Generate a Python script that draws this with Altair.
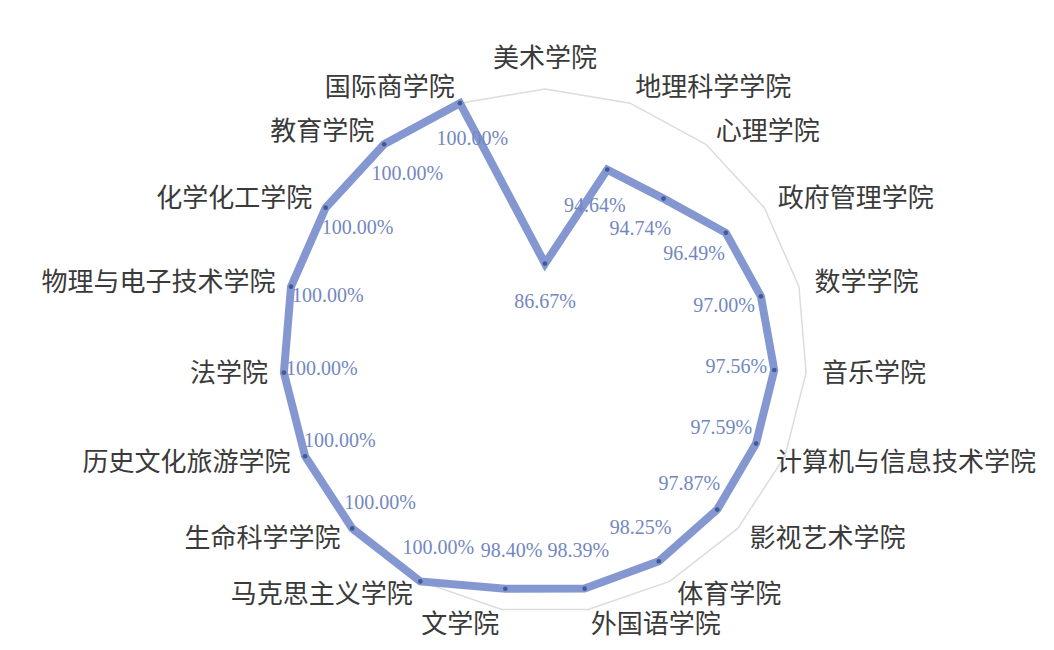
import altair as alt
import pandas as pd

categories = ["美术学院", "地理科学学院", "心理学院", "政府管理学院", "数学学院", "音乐学院",
              "计算机与信息技术学院", "影视艺术学院", "体育学院", "外国语学院", "文学院",
              "马克思主义学院", "生命科学学院", "历史文化旅游学院", "法学院", "物理与电子技术学院",
              "化学化工学院", "教育学院", "国际商学院"]
values = [86.67, 94.64, 94.74, 96.49, 97.00, 97.56, 97.59, 97.87, 98.25, 98.39, 98.40,
          100.00, 100.00, 100.00, 100.00, 100.00, 100.00, 100.00, 100.00]
axis_min, axis_max = 80, 100

N = len(categories)
df = pd.DataFrame({"college": categories, "rate": values, "idx": list(range(N))})

# layout (pixels)
W, H = 1038, 634
R = 262.0          # radius of the 100% ring
CX, CY = 537.0, 343.0
LBL_IN = 38.0 / R   # value label offset inward
CAT_R = 278.0 / R   # category label radius
CAT_FS = 26
XMAX = (W - CX) / R

xs = alt.Scale(domain=[-CX / R, XMAX], nice=False, zero=False)
ys = alt.Scale(domain=[-(H - CY) / R, CY / R], nice=False, zero=False)

base = (
    alt.Chart(df)
    .transform_calculate(theta=f"datum.idx*2*PI/{N}")
    .transform_calculate(r=f"(datum.rate-{axis_min})/({axis_max}-{axis_min})")
    .transform_calculate(s="sin(datum.theta)", c="cos(datum.theta)")
    .transform_calculate(px="datum.r*datum.s", py="datum.r*datum.c")
    .transform_calculate(lx=f"(datum.r-{LBL_IN})*datum.s", ly=f"(datum.r-{LBL_IN})*datum.c")
    # category labels: pulled in if they would run past the right edge
    .transform_calculate(
        cx=f"min({CAT_R}*datum.s, {XMAX} - length(datum.college)*{CAT_FS + 1}/{R})",
        cy=f"{CAT_R}*datum.c",
    )
    .transform_calculate(label="format(datum.rate,'.2f')+'%'")
)

def xy(xf, yf):
    return dict(
        x=alt.X(f"{xf}:Q", scale=xs, axis=None),
        y=alt.Y(f"{yf}:Q", scale=ys, axis=None),
    )

grid = base.mark_line(interpolate="linear-closed", color="#dcdcdc", strokeWidth=1.5).encode(
    order=alt.Order("idx:Q"), **xy("s", "c")
)

line = base.mark_line(interpolate="linear-closed", color="#8497d0", strokeWidth=8,
                      strokeJoin="miter").encode(order=alt.Order("idx:Q"), **xy("px", "py"))

pts = base.mark_point(filled=True, size=22, color="#3e5b98", opacity=1).encode(**xy("px", "py"))

vlabels = base.mark_text(font="Liberation Serif", fontSize=20, color="#7387c0").encode(
    text="label:N", **xy("lx", "ly")
)

cat_font = dict(font="Noto Sans CJK SC", fontSize=CAT_FS, color="#3a3a3a", baseline="middle")
cat_top = base.transform_filter("abs(datum.s) < 0.1").mark_text(align="center", dy=-14, **cat_font).encode(
    text="college:N", **xy("cx", "cy"))
cat_right = base.transform_filter("datum.s >= 0.1").mark_text(align="left", **cat_font).encode(
    text="college:N", **xy("cx", "cy"))
cat_left = base.transform_filter("datum.s <= -0.1").mark_text(align="right", **cat_font).encode(
    text="college:N", **xy("cx", "cy"))

chart = (
    alt.layer(grid, line, pts, vlabels, cat_top, cat_right, cat_left)
    .properties(width=W, height=H, autosize=alt.AutoSizeParams(type="none"), padding=0,
                background="white")
    .configure_view(stroke=None)
)

chart.save("out.html", embed_options={"renderer": "svg", "actions": False})
